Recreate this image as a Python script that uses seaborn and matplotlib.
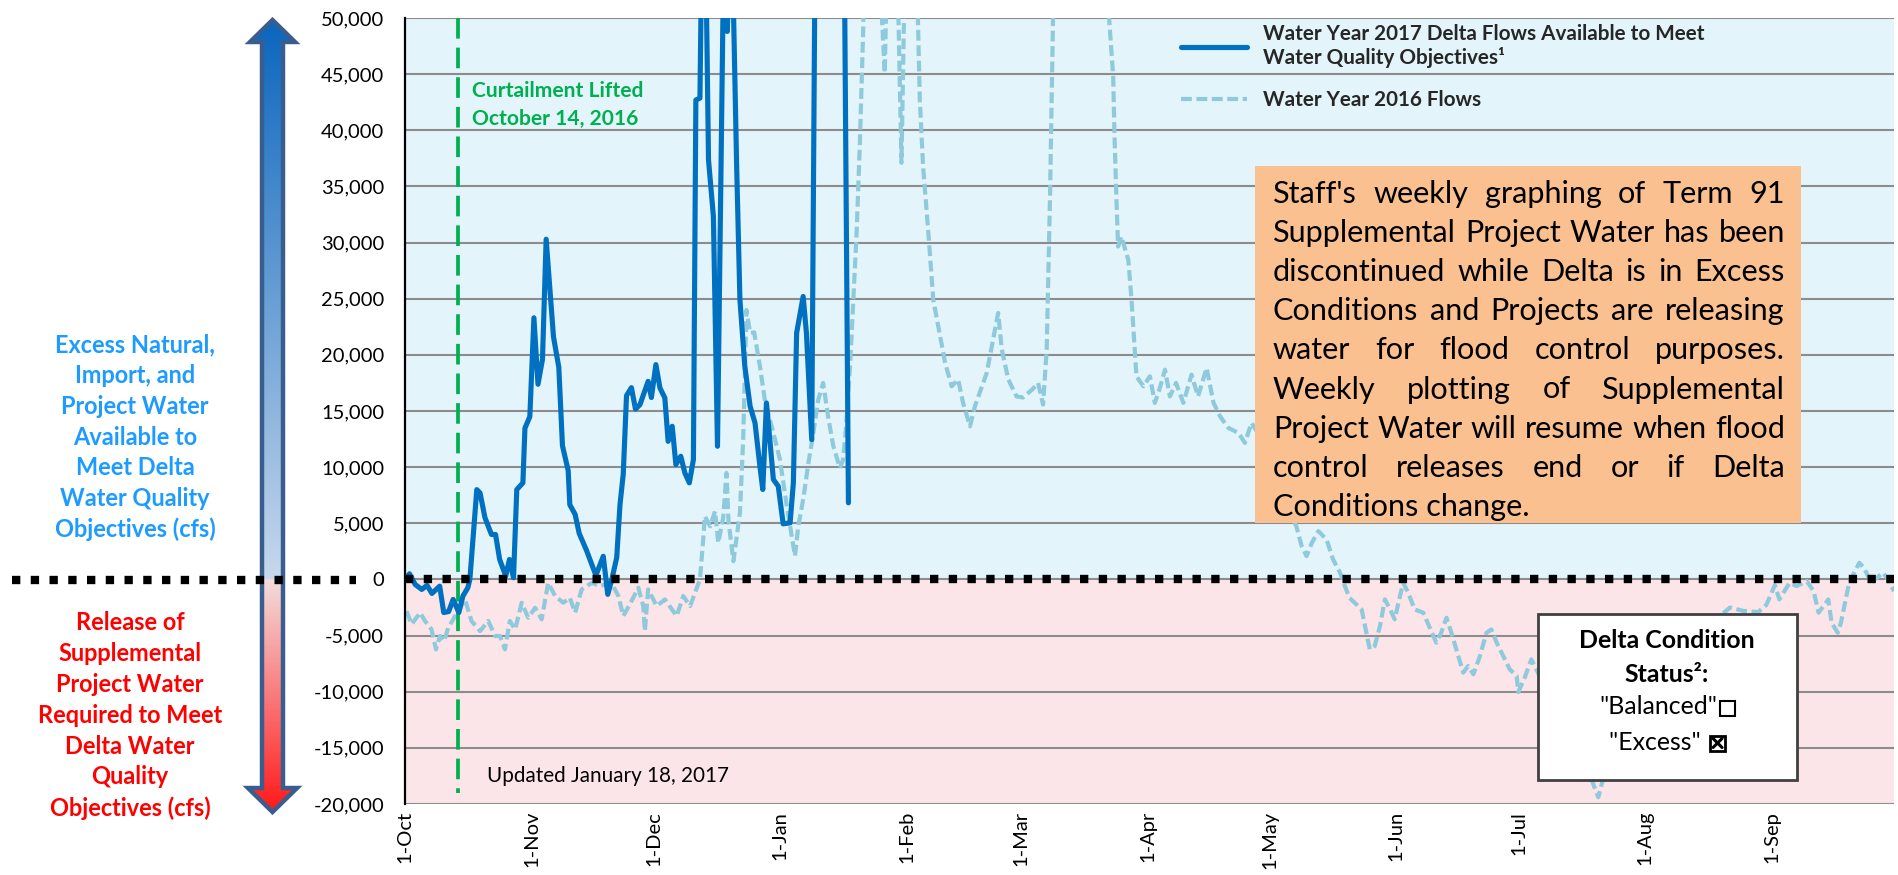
import numpy as np
import pandas as pd
import matplotlib
matplotlib.use("Agg")
import matplotlib.pyplot as plt
import seaborn as sns
from matplotlib.font_manager import FontProperties
from matplotlib.patches import Polygon, Rectangle
from matplotlib.ticker import FuncFormatter

# ---------------- data ----------------
START = "2016-10-01"
MONTH_LABELS = ["1-Oct", "1-Nov", "1-Dec", "1-Jan", "1-Feb", "1-Mar",
                "1-Apr", "1-May", "1-Jun", "1-Jul", "1-Aug", "1-Sep"]
Y_TICKS = list(range(-20000, 50001, 5000))
CURTAIL_DAY = 13  # October 14, 2016

# Water Year 2017 (days since 1-Oct, cfs)
WY2017_DAY = [0, 1.1, 2.5, 4.1, 5.4, 6.6, 8.5, 9.5, 10.7, 11.8, 13.2, 14.2, 15.4, 15.9,
              17.6, 18.4, 19.6, 21.2, 22.2, 23.2, 24.7, 25.6, 26.6, 27.4, 28.9, 29.4,
              30.6, 31.6, 32.6, 33.7, 34.6, 36.4, 37.7, 38.6, 40.0, 40.4, 41.7, 42.7,
              44.5, 46.8, 48.6, 49.7, 50.7, 51.9, 52.7, 53.5, 54.3, 55.5, 56.5, 57.6,
              59.6, 60.4, 61.5, 62.5, 63.7, 64.5, 65.5, 66.4, 67.6, 68.6, 69.7, 70.7,
              71.3, 72.3, 73.2, 74.4, 75.6, 76.6, 78.0, 79.0, 80.0, 81.3, 82.1, 83.3,
              84.6, 85.8, 87.0, 87.7, 88.6, 89.5, 90.3, 91.5, 92.7, 94.4, 95.2, 96.0,
              97.6, 98.4, 99.7, 100.6, 104.0, 107.6, 108.7]
WY2017_FLOW = [0, 500, -450, -890, -530, -1250, -600, -2950, -2860, -1780, -2950, -1480, -740, 0,
               8000, 7700, 5500, 4000, 4000, 1780, 300, 1780, 150, 8000, 8600, 13470,
               14500, 23300, 17380, 19600, 30300, 21600, 18900, 11900, 9700, 6650, 5800, 4100,
               2580, 360, 2060, -1330, 0, 1950, 6650, 9380, 16370, 17080, 15170, 15570,
               17640, 16200, 19130, 17050, 16160, 12300, 13640, 10230, 10970, 9490, 8600, 10680,
               42700, 42860, 70000, 37370, 32320, 11860, 52000, 48800, 60000, 36770, 24910, 18980,
               15420, 13940, 10080, 8010, 15720, 12160, 8900, 8300, 4950, 5040, 8600, 21950,
               25200, 21950, 12450, 60000, 80000, 60000, 6820]

# Water Year 2016 (days since 1-Oct, cfs)
WY2016_DAY = [0.4, 1.6, 3.7, 4.9, 6.5, 7.6, 8.6, 9.6, 10.6, 12.3, 14.7, 16.3, 18.4, 20.4,
              22.1, 23.3, 24.5, 25.7, 27.0, 28.6, 30.2, 31.9, 33.5, 35.1, 36.8, 38.8,
              40.4, 41.7, 43.3, 45.8, 47.8, 50.6, 52.3, 53.5, 55.1, 57.2, 58.4, 58.8,
              59.6, 61.7, 63.7, 66.6, 68.2, 69.9, 71.1, 72.3, 73.1, 73.5, 74.8, 76.0,
              76.8, 78.0, 78.8, 79.3, 80.5, 82.1, 82.9, 83.7, 84.6, 85.6, 87.0, 88.2,
              90.3, 91.9, 93.6, 94.8, 95.6, 96.4, 97.6, 98.9, 100.1, 101.3, 102.5, 103.7,
              105.0, 106.6, 107.4, 108.0, 109.1, 109.9, 110.7, 111.5, 112.3, 113.0, 115.5,
              117.6, 118.5, 120.5, 121.7, 122.8, 125.4, 126.2, 127.0, 128.3, 129.5, 132.4,
              134.0, 135.6, 136.8, 138.5, 139.7, 142.6, 145.4, 146.3, 147.9, 149.9, 151.5,
              154.0, 155.2, 156.4, 157.3, 158.1, 158.9, 165.0, 172.4, 173.6, 173.9, 174.4,
              174.8, 175.6, 177.3, 178.1, 179.3, 181.0, 182.6, 183.8, 185.0, 186.3, 187.5,
              189.0, 190.8, 192.8, 194.4, 196.5, 198.2, 199.8, 201.8, 204.3, 205.9, 207.5,
              210.0, 213.0, 216.0, 218.5, 219.8, 221.0, 222.3, 223.9, 225.9, 227.5, 229.2,
              230.4, 231.5, 234.5, 236.5, 237.7, 239.0, 240.2, 241.5, 242.6, 243.9, 244.7,
              245.9, 247.5, 249.6, 252.8, 254.0, 255.3, 256.5, 258.2, 259.4, 260.6, 261.9,
              263.5, 265.1, 266.3, 267.6, 269.2, 270.8, 272.5, 272.9, 274.5, 276.1, 278.0,
              282.0, 286.0, 290.0, 292.5, 295.0, 300.0, 305.0, 310.0, 315.0, 320.0, 324.8,
              328.0, 331.7, 333.7, 335.8, 336.9, 339.4, 341.1, 343.6, 345.3, 346.5, 348.9,
              349.7, 351.2, 352.0, 354.0, 356.5, 357.7, 359.4, 362.3, 363.5, 365.0]
WY2016_FLOW = [-2820, -4000, -2960, -3700, -4450, -6230, -5040, -5490, -4300, -3260, -1780, -3700, -4600, -3700,
               -5040, -5040, -6230, -3700, -4450, -2080, -3410, -2520, -3560, -300, -1480, -2080,
               -1630, -2960, -890, -300, -590, -300, -1480, -3260, -2230, -740, -2370, -4600,
               -890, -2370, -1780, -3260, -1480, -2370, -1190, 0, 3560, 5630, 4740, 6080,
               3260, 5490, 9490, 5190, 1630, 5930, 12450, 24000, 21950, 22000, 18980, 16000,
               13050, 10680, 6520, 3860, 2080, 4740, 7120, 10380, 13050, 16000, 17500, 14530,
               11860, 9930, 10680, 13050, 18980, 24900, 30840, 38850, 48650, 62000, 60000,
               45100, 60000, 58000, 37100, 60000, 55000, 42700, 36770, 30840, 24900, 19300,
               17200, 17800, 15720, 13640, 15420, 18390, 23730, 20470, 17800, 16300, 16200,
               17000, 17500, 15570, 20460, 33800, 51000, 75000, 51000, 44780, 39750, 33800,
               29650, 30540, 28470, 24900, 18090, 17200, 18090, 15720, 17000, 18680, 16300,
               17500, 15720, 18240, 16300, 18830, 15720, 14530, 13500, 13050, 12160, 13940,
               12500, 9500, 6500, 4740, 2960, 2080, 3260, 4300, 3560, 1780, 600,
               -600, -1630, -2670, -6230, -5930, -4150, -1780, -2670, -3560, -1480, -300,
               -1180, -2670, -2960, -5630, -4750, -3410, -4750, -6820, -8300, -7710, -8450,
               -6820, -4750, -4450, -5630, -6820, -8000, -8600, -10030, -8720, -7120, -8500,
               -11000, -14000, -17000, -19400, -16000, -13000, -10000, -8000, -5500, -4000, -2500,
               -2800, -2910, -2270, -500, -1780, -300, -590, -150, -1040, -2960, -1780,
               -3850, -4750, -3850, -300, 1480, 1000, -300, 600, 0, -1040]

LEGEND_2017 = "Water Year 2017 Delta Flows Available to Meet\nWater Quality Objectives\u00b9"
LEGEND_2016 = "Water Year 2016 Flows"
CURTAIL_TEXT = ["Curtailment Lifted", "October 14, 2016"]
UPDATED_TEXT = "Updated January 18, 2017"
BLUE_LABEL = ["Excess Natural,", "Import, and", "Project Water", "Available to",
              "Meet Delta", "Water Quality", "Objectives (cfs)"]
RED_LABEL = ["Release of", "Supplemental", "Project Water", "Required to Meet",
             "Delta Water", "Quality", "Objectives (cfs)"]
BOX_LINES = ["Staff's weekly graphing of Term 91",
             "Supplemental Project Water has been",
             "discontinued while Delta is in Excess",
             "Conditions and Projects are releasing",
             "water for flood control purposes.",
             "Weekly plotting of Supplemental",
             "Project Water will resume when flood",
             "control releases end or if Delta",
             "Conditions change."]
STATUS_TITLE = ["Delta Condition", "Status\u00b2:"]
STATUS_OPTIONS = [("\"Balanced\"", False), ("\"Excess\" ", True)]  # (label, checked)

# ---------------- style ----------------
sns.set_theme(style="white")
FAM = ["Lato", "DejaVu Sans"]
plt.rcParams["font.family"] = FAM

W, H = 1898, 875
fig = plt.figure(figsize=(W / 100, H / 100), dpi=100)
renderer = fig.canvas.get_renderer()


def text_w(s, size, weight="normal", family=FAM):
    fp = FontProperties(family=family, size=size, weight=weight)
    w, h, d = renderer.get_text_width_height_descent(s, fp, ismath=False)
    return w


def fit(s, target, weight="normal"):
    return 20.0 * target / text_w(s, 20.0, weight)


fs_tick = fit("50,000", 63)
fs_leg = fit(LEGEND_2016, 218, "bold")
fs_box = fit("Project Water will resume when flood", 512)
fs_side = fit("Required to Meet", 185, "bold")
fs_green = fit("Curtailment Lifted", 171, "bold")
fs_upd = fit(UPDATED_TEXT, 241)
fs_status = fit("Delta Condition", 176, "bold")

# ---------------- main axes ----------------
ax = fig.add_axes([405 / W, 1 - 804 / H, 1489 / W, 786 / H])
ax.axhspan(0, 50000, color="#e3f4fb", lw=0, zorder=0.1)
ax.axhspan(-20000, 0, color="#fce5e8", lw=0, zorder=0.1)
ax.set_axisbelow(True)
ax.grid(axis="y", color="#8c8c8c", lw=1.5)
ax.grid(axis="x", visible=False)

df16 = pd.DataFrame({"day": WY2016_DAY, "flow": WY2016_FLOW})
df17 = pd.DataFrame({"day": WY2017_DAY, "flow": WY2017_FLOW})

sns.lineplot(data=df16, x="day", y="flow", ax=ax, color="#8ecadc", lw=3.0,
             sort=False, estimator=None, zorder=2, legend=False)
line16 = ax.lines[-1]
line16.set_dashes((2.6, 1.1))
sns.lineplot(data=df17, x="day", y="flow", ax=ax, color="#0070c0", lw=3.7,
             sort=False, estimator=None, zorder=3, legend=False)
line17 = ax.lines[-1]

ax.plot([CURTAIL_DAY, CURTAIL_DAY], [50000, -19000], color="#00b050", lw=2.7,
        dashes=(5.5, 2.4), zorder=2.5)
ax.axhline(0, color="black", lw=6.0, linestyle=(0, (1, 1.25)), zorder=4)

ax.set_xlim(0, 365)
ax.set_ylim(-20000, 50000)
month_pos = (pd.date_range(START, periods=12, freq="MS") - pd.Timestamp(START)).days
ax.set_xticks(month_pos)
ax.set_xticklabels(MONTH_LABELS, rotation=90, fontsize=fs_tick)
ax.set_yticks(Y_TICKS)
ax.yaxis.set_major_formatter(FuncFormatter(lambda v, p: f"{v:,.0f}"))
ax.tick_params(axis="y", length=0, pad=15, labelsize=fs_tick, colors="black")
ax.tick_params(axis="x", length=0, pad=5, colors="black")
ax.set_xlabel("")
ax.set_ylabel("")
for side in ["top", "right", "bottom"]:
    ax.spines[side].set_visible(False)
ax.spines["left"].set_color("black")
ax.spines["left"].set_linewidth(1.6)

fpx = fs_leg * 100 / 72
leg = ax.legend(handles=[line17, line16], labels=[LEGEND_2017, LEGEND_2016],
                loc="upper left", bbox_to_anchor=((1181 - 405) / 1489, (804 - 24) / 786),
                frameon=False, prop=FontProperties(family=FAM, weight="bold", size=fs_leg),
                handlelength=66 / fpx, handletextpad=16 / fpx, labelspacing=22 / fpx,
                borderaxespad=0, borderpad=0)

# ---------------- overlay (pixel coordinates) ----------------
ov = fig.add_axes([0, 0, 1, 1], zorder=10)
ov.patch.set_alpha(0)

# gradient arrow
verts = [(272.5, 20), (295, 42), (283, 42), (283, 788), (297, 788), (272.5, 812),
         (248, 788), (262, 788), (262, 42), (250, 42)]
poly = Polygon(verts, closed=True, facecolor="none", edgecolor="#3a5d8f", lw=3.2,
               joinstyle="miter", zorder=2)
ov.add_patch(poly)
ys = np.linspace(20, 812, 500)
img = np.zeros((len(ys), 1, 3))
top_c, mid_c = np.array([10, 102, 190]) / 255, np.array([200, 216, 236]) / 255
pink_c, red_c = np.array([244, 220, 220]) / 255, np.array([255, 25, 25]) / 255
for i, yy in enumerate(ys):
    if yy <= 580:
        t = (yy - 20) / 560
        img[i, 0] = top_c * (1 - t) + mid_c * t
    else:
        t = (yy - 580) / 232
        img[i, 0] = pink_c * (1 - t) + red_c * t
im = ov.imshow(img, extent=[247, 298, 812, 20], aspect="auto", interpolation="bilinear", zorder=1)
im.set_clip_path(poly)

ov.plot([12, 356], [580, 580], color="black", lw=6.0, linestyle=(0, (1, 1.25)), zorder=3)

for i, s in enumerate(BLUE_LABEL):
    ov.text(135, 345 + 30.7 * i, s, color="#1e9bff", fontsize=fs_side, fontweight="bold",
            ha="center", va="center")
for i, s in enumerate(RED_LABEL):
    ov.text(130, 623 + 30.8 * i, s, color="#ff0000", fontsize=fs_side, fontweight="bold",
            ha="center", va="center")

# curtailment & update notes
for i, s in enumerate(CURTAIL_TEXT):
    ov.text(472, 91 + 28 * i, s, color="#00b050", fontsize=fs_green, fontweight="bold",
            ha="left", va="center")
ov.text(487, 776, UPDATED_TEXT, color="black", fontsize=fs_upd, ha="left", va="center")

# orange note box with justified text
ov.add_patch(Rectangle((1255, 166), 546, 357, facecolor="#fac08f", edgecolor="none", zorder=2))
left, right = 1273, 1785
for i, line in enumerate(BOX_LINES):
    base = 203 + 39.1 * i
    if i == len(BOX_LINES) - 1:
        ov.text(left, base, line, fontsize=fs_box, ha="left", va="baseline", color="black", zorder=3)
        continue
    words = line.split()
    widths = [text_w(w_, fs_box) for w_ in words]
    gap = (right - left - sum(widths)) / (len(words) - 1)
    x = left
    for w_, wd in zip(words, widths):
        ov.text(x, base, w_, fontsize=fs_box, ha="left", va="baseline", color="black", zorder=3)
        x += wd + gap

# status box
ov.add_patch(Rectangle((1538, 614), 259, 166, facecolor="white", edgecolor="#404040", lw=2, zorder=2))
for s, yy in zip(STATUS_TITLE, [640, 674]):
    ov.text(1667, yy, s, fontsize=fs_status, fontweight="bold", ha="center", va="center",
            color="black", zorder=3)
BOX_SZ = 15
for (s, checked), yy in zip(STATUS_OPTIONS, [707, 742]):
    w1 = text_w(s, fs_status)
    x0 = 1667 - (w1 + BOX_SZ + 3) / 2
    ov.text(x0, yy, s, fontsize=fs_status, ha="left", va="center", color="black", zorder=3)
    bx, by = x0 + w1 + 3, yy - BOX_SZ / 2 + 1
    ov.add_patch(Rectangle((bx, by), BOX_SZ, BOX_SZ, facecolor="white", edgecolor="black",
                           lw=2.0 if checked else 1.5, zorder=3))
    if checked:
        ov.plot([bx + 3, bx + BOX_SZ - 3], [by + 3, by + BOX_SZ - 3], color="black", lw=2.2, zorder=4)
        ov.plot([bx + 3, bx + BOX_SZ - 3], [by + BOX_SZ - 3, by + 3], color="black", lw=2.2, zorder=4)

ov.set_xlim(0, W)
ov.set_ylim(H, 0)
ov.axis("off")

fig.savefig("out.png", dpi=100)
